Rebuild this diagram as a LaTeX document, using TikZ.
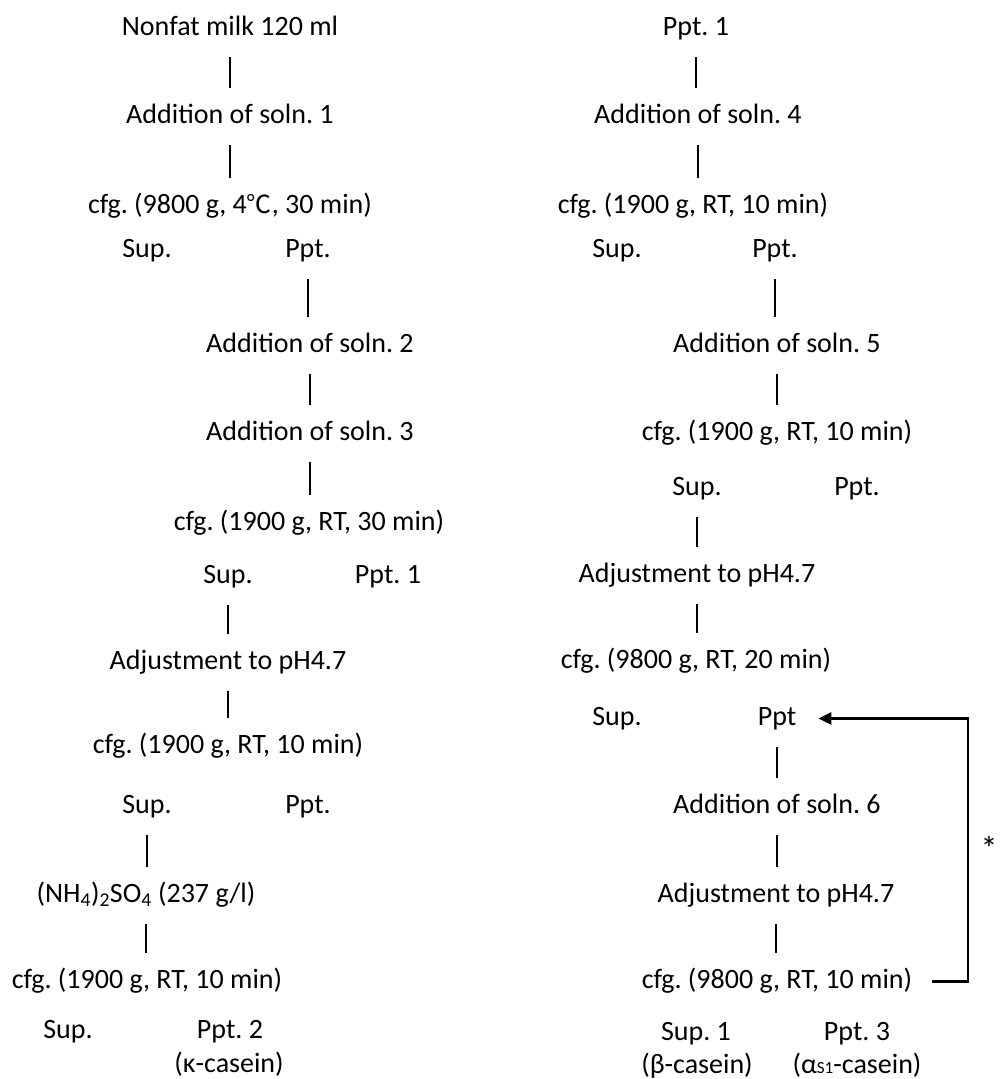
\documentclass[tikz,border=0pt]{standalone}
\usepackage{fontspec}
\setmainfont{Carlito}
\newfontfamily\cjk{Noto Sans CJK JP}
\usetikzlibrary{arrows.meta}
\frenchspacing
\begin{document}
\begin{tikzpicture}[x=1pt,y=-1pt,
 lbl/.style={anchor=base, inner xsep=0pt, inner ysep=16pt, text height=19pt, text depth=6pt, font=\fontsize{28}{33}\selectfont},
 starlbl/.style={anchor=center, inner sep=0pt, font=\fontsize{34}{34}\selectfont},
 link/.style={line width=2.4pt},
 back/.style={line width=2.4pt,-{Triangle[length=13pt,width=12pt]}, shorten <=20pt, shorten >=22pt}]
\useasboundingbox (0,0) rectangle (999,1079);
% left column
\node[lbl] (L1) at (230,35) {Nonfat milk 120 ml};
\node[lbl] (L2) at (230,123) {Addition of soln. 1};
\node[lbl] (L3) at (230,213) {cfg. (9800 g, 4{\cjk\fontsize{25}{25}\selectfont ℃}, 30 min)};
\node[lbl] (L3s) at (147,257) {Sup.};
\node[lbl] (L3p) at (308,257) {Ppt.};
\node[lbl] (L4) at (310,352) {Addition of soln. 2};
\node[lbl] (L5) at (310,440) {Addition of soln. 3};
\node[lbl] (L6) at (309,530) {cfg. (1900 g, RT, 30 min)};
\node[lbl] (L6s) at (228,583) {Sup.};
\node[lbl] (L6p) at (388,583) {Ppt. 1};
\node[lbl] (L7) at (228,669) {Adjustment to pH4.7};
\node[lbl] (L8) at (228,753) {cfg. (1900 g, RT, 10 min)};
\node[lbl] (L8s) at (147,813) {Sup.};
\node[lbl] (L8p) at (308,813) {Ppt.};
\node[lbl] (L9) at (146,902) {(NH\textsubscript{4})\textsubscript{2}SO\textsubscript{4} (237 g/l)};
\node[lbl] (L10) at (147,988) {cfg. (1900 g, RT, 10 min)};
\node[lbl] (L10s) at (68,1038) {Sup.};
\node[lbl] (L10p) at (230,1038) {Ppt. 2};
\node[lbl] (L10c) at (229,1072) {(κ-casein)};
% right column
\node[lbl] (R1) at (696,35) {Ppt. 1};
\node[lbl] (R2) at (698,123) {Addition of soln. 4};
\node[lbl] (R3) at (693,213) {cfg. (1900 g, RT, 10 min)};
\node[lbl] (R3s) at (617,257) {Sup.};
\node[lbl] (R3p) at (775,257) {Ppt.};
\node[lbl] (R4) at (777,352) {Addition of soln. 5};
\node[lbl] (R5) at (777,440) {cfg. (1900 g, RT, 10 min)};
\node[lbl] (R5s) at (697,495) {Sup.};
\node[lbl] (R5p) at (857,495) {Ppt.};
\node[lbl] (R6) at (697,582) {Adjustment to pH4.7};
\node[lbl] (R7) at (696,668) {cfg. (9800 g, RT, 20 min)};
\node[lbl] (R7s) at (617,725) {Sup.};
\node[lbl] (R7p) at (777,725) {Ppt};
\node[lbl] (R8) at (777,813) {Addition of soln. 6};
\node[lbl] (R9) at (776,902) {Adjustment to pH4.7};
\node[lbl] (R10) at (777,988) {cfg. (9800 g, RT, 10 min)};
\node[lbl] (R10s) at (696,1040) {Sup. 1};
\node[lbl] (R10p) at (857,1040) {Ppt. 3};
\node[lbl] (R10a) at (697,1073) {(β-casein)};
\node[lbl] (R10b) at (857,1073) {(α{\fontsize{17}{17}\selectfont S1}-casein)};
\node[starlbl] (star) at (989,848) {*};
% connectors left
\draw[link] (L1.south) -- (L1.south |- L2.north);
\draw[link] (L2.south) -- (L2.south |- L3.north);
\draw[link] (L3p.south) -- (L3p.south |- L4.north);
\draw[link] (L4.south) -- (L4.south |- L5.north);
\draw[link] (L5.south) -- (L5.south |- L6.north);
\draw[link] (L6s.south) -- (L6s.south |- L7.north);
\draw[link] (L7.south) -- (L7.south |- L8.north);
\draw[link] (L8s.south) -- (L8s.south |- L9.north);
\draw[link] (L9.south) -- (L9.south |- L10.north);
% connectors right
\draw[link] (R1.south) -- (R1.south |- R2.north);
\draw[link] (R2.south) -- (R2.south |- R3.north);
\draw[link] (R3p.south) -- (R3p.south |- R4.north);
\draw[link] (R4.south) -- (R4.south |- R5.north);
\draw[link] (R5s.south) -- (R5s.south |- R6.north);
\draw[link] (R6.south) -- (R6.south |- R7.north);
\draw[link] (R7p.south) -- (R7p.south |- R8.north);
\draw[link] (R8.south) -- (R8.south |- R9.north);
\draw[link] (R9.south) -- (R9.south |- R10.north);
% recycle arrow
\coordinate (bend) at (968,977);
\draw[back] (R10.east) -- (R10.east -| bend) -- (bend |- R7p.east) -- (R7p.east);
\end{tikzpicture}
\end{document}
